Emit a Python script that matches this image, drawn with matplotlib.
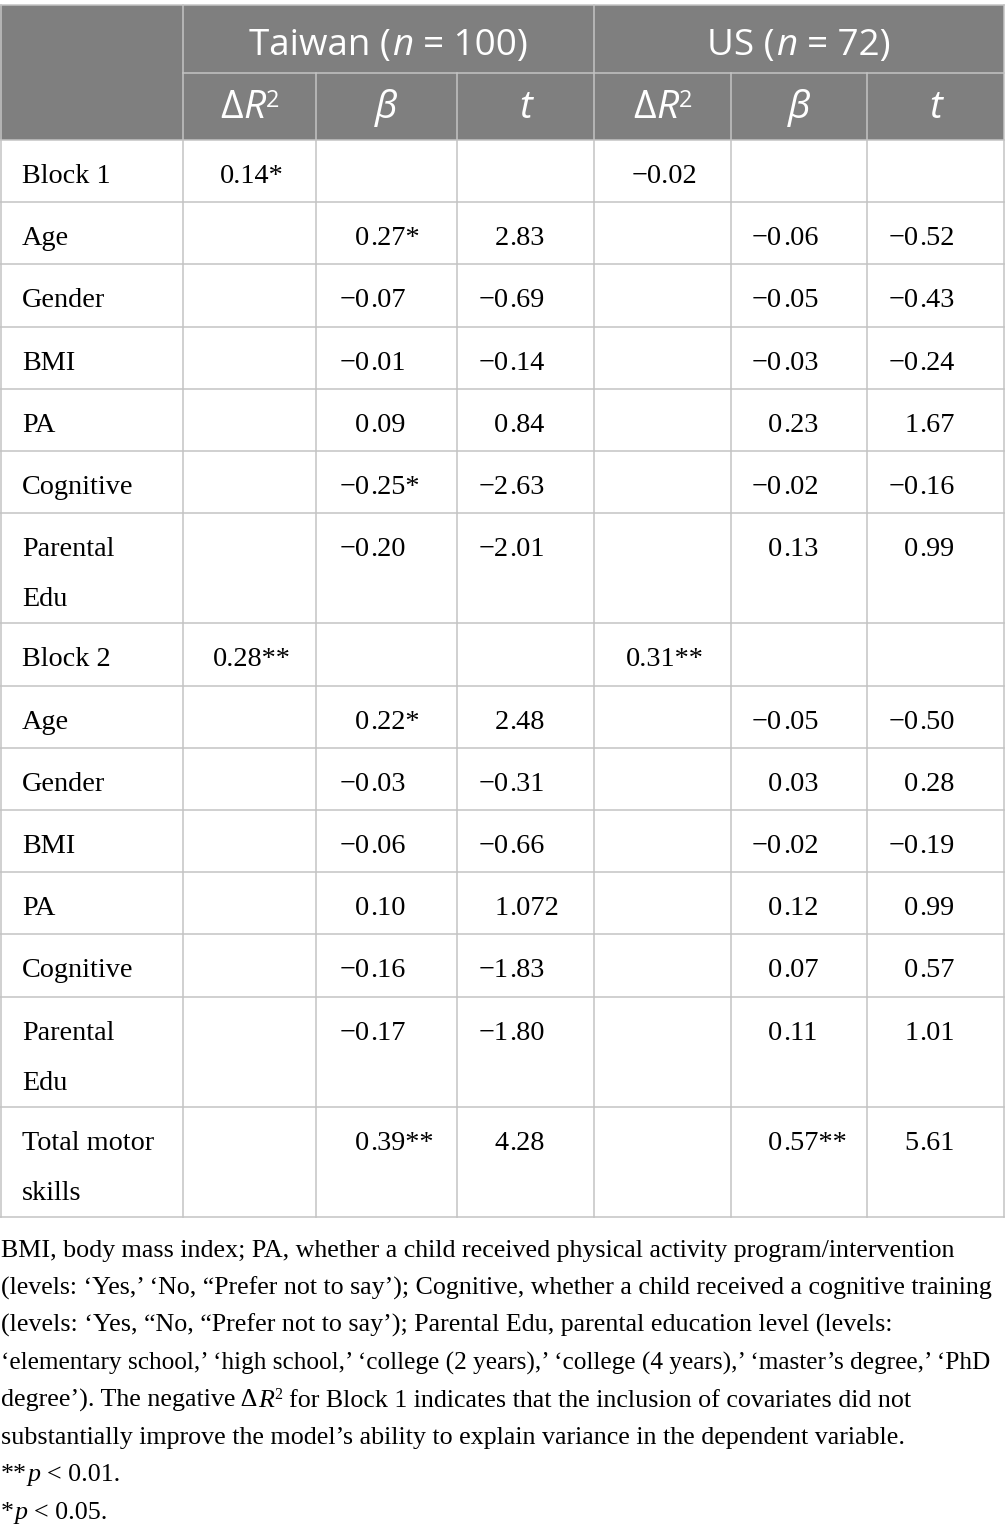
import matplotlib
matplotlib.use("Agg")
import matplotlib.pyplot as plt
from matplotlib.font_manager import FontProperties

# ---------------- data ----------------
group_titles = ["Taiwan", "US"]
group_n = ["100", "72"]
row_labels = ["Block 1", "Age", "Gender", "BMI", "PA", "Cognitive", "Parental\nEdu",
              "Block 2", "Age", "Gender", "BMI", "PA", "Cognitive", "Parental\nEdu",
              "Total motor\nskills"]
tw_dr2 = ["0.14*", "", "", "", "", "", "", "0.28**", "", "", "", "", "", "", ""]
tw_beta = ["", "0.27*", "−0.07", "−0.01", "0.09", "−0.25*", "−0.20",
           "", "0.22*", "−0.03", "−0.06", "0.10", "−0.16", "−0.17", "0.39**"]
tw_t = ["", "2.83", "−0.69", "−0.14", "0.84", "−2.63", "−2.01",
        "", "2.48", "−0.31", "−0.66", "1.072", "−1.83", "−1.80", "4.28"]
us_dr2 = ["−0.02", "", "", "", "", "", "", "0.31**", "", "", "", "", "", "", ""]
us_beta = ["", "−0.06", "−0.05", "−0.03", "0.23", "−0.02", "0.13",
           "", "−0.05", "0.03", "−0.02", "0.12", "0.07", "0.11", "0.57**"]
us_t = ["", "−0.52", "−0.43", "−0.24", "1.67", "−0.16", "0.99",
        "", "−0.50", "0.28", "−0.19", "0.99", "0.57", "1.01", "5.61"]

# ---------------- figure ----------------
W, H = 1005, 1535
fig = plt.figure(figsize=(W / 100, H / 100), dpi=100)
ax = fig.add_axes([0, 0, 1, 1])
ax.set_xlim(0, W)
ax.set_ylim(H, 0)
ax.axis("off")
renderer = fig.canvas.get_renderer()

SERIF = "Liberation Serif"
SANS = "Open Sans"
FOOT = 18.7
cell_fp = FontProperties(family=SERIF, size=20.3)
foot_fp = FontProperties(family=SERIF, size=FOOT)
foot_it = FontProperties(family=SERIF, style="italic", size=FOOT)
foot_sup = FontProperties(family=SERIF, size=11.5)
head_fp = FontProperties(family=SANS, size=26.5)
head_it = FontProperties(family=SANS, style="italic", size=26.5)
sub_fp = FontProperties(family=SANS, size=28)
sub_it = FontProperties(family=SANS, style="italic", size=28)
sub_sup = FontProperties(family=SANS, size=17)

HEAD_BG = "#7f7f7f"
GRID = "#c3c3c3"


def text_w(s, fp):
    t = ax.text(0, 0, s, fontproperties=fp)
    w = t.get_window_extent(renderer).width
    t.remove()
    return w


def space_w(fp):
    return text_w("a a", fp) - text_w("aa", fp)


def layout_runs(runs, gap):
    pieces = []
    total = 0.0
    for i, (s, fp, dy) in enumerate(runs):
        lead = len(s) - len(s.lstrip(" "))
        trail = len(s) - len(s.rstrip(" "))
        core = s.strip(" ")
        sw = space_w(fp) if (lead or trail) else 0
        w = text_w(core, fp) if core else 0
        if i > 0 and lead == 0:
            total += gap
        pieces.append((total + lead * sw, core, fp, dy))
        total += lead * sw + w + trail * sw
    return pieces, total


def draw_runs(x, y, runs, ha="left", color="black", gap=1.5, max_w=None):
    pieces, total = layout_runs(runs, gap)
    if max_w is not None and total > max_w:
        f = max_w / total
        runs = [(s, FontProperties(family=fp.get_family(), style=fp.get_style(),
                                   size=fp.get_size_in_points() * f), dy)
                for s, fp, dy in runs]
        pieces, total = layout_runs(runs, gap)
    if ha == "center":
        x0 = x - total / 2
    elif ha == "right":
        x0 = x - total
    else:
        x0 = x
    for off, core, fp, dy in pieces:
        ax.text(x0 + off, y + dy, core, fontproperties=fp, ha="left",
                va="baseline", color=color)


# column edges
col_x = [0, 183, 316, 457, 594, 731, 867, 1004]
y_top, y_mid, y_head = 5, 72.5, 140
single_h, double_h = 62.2, 110.2
row_tops = [y_head]
for lab in row_labels:
    row_tops.append(row_tops[-1] + (double_h if "\n" in lab else single_h))
y_bot = row_tops[-1]

# header background
ax.add_patch(plt.Rectangle((0, y_top), W - 1, y_head - y_top, color=HEAD_BG, lw=0))

lw = 1.1
ax.plot([0, 1004], [y_top, y_top], color=GRID, lw=lw)
ax.plot([183, 1004], [y_mid, y_mid], color=GRID, lw=lw)
for yy in row_tops:
    ax.plot([0, 1004], [yy, yy], color=GRID, lw=lw)
for xx in [0.8, 1003.5]:
    ax.plot([xx, xx], [y_top, y_bot], color=GRID, lw=lw)
for xx in [183, 594]:
    ax.plot([xx, xx], [y_top, y_bot], color=GRID, lw=lw)
for xx in [316, 457, 731, 867]:
    ax.plot([xx, xx], [y_mid, y_bot], color=GRID, lw=lw)

# header texts
for g, (title, n) in enumerate(zip(group_titles, group_n)):
    x0, x1 = col_x[1 + 3 * g], col_x[4 + 3 * g]
    draw_runs((x0 + x1) / 2, 55, [(title + " (", head_fp, 0), ("n", head_it, 0),
                                  (" = " + n + ")", head_fp, 0)],
              ha="center", color="white")
    cx = [(col_x[k] + col_x[k + 1]) / 2 for k in range(1 + 3 * g, 4 + 3 * g)]
    draw_runs(cx[0], 118, [("Δ", sub_fp, 0), ("R", sub_it, 0), ("2", sub_sup, -11)],
              ha="center", color="white", gap=0.5)
    draw_runs(cx[1], 118, [("β", sub_it, 0)], ha="center", color="white")
    draw_runs(cx[2], 118, [("t", sub_it, 0)], ha="center", color="white")


def draw_decimal(xd, y, s):
    if not s:
        return
    ip, rest = s.split(".", 1)
    ax.text(xd - 1, y, ip, fontproperties=cell_fp, ha="right", va="baseline")
    ax.text(xd, y, "." + rest, fontproperties=cell_fp, ha="left", va="baseline")


cols = [tw_dr2, tw_beta, tw_t, us_dr2, us_beta, us_t]
for i, lab in enumerate(row_labels):
    top = row_tops[i]
    for j, line in enumerate(lab.split("\n")):
        ax.text(22, top + 43 + 50 * j, line, fontproperties=cell_fp,
                ha="left", va="baseline")
    for k, col in enumerate(cols):
        s = col[i]
        if not s:
            continue
        cx = (col_x[k + 1] + col_x[k + 2]) / 2
        if k in (0, 3):
            ax.text(cx + 2, top + 43, s, fontproperties=cell_fp, ha="center", va="baseline")
        else:
            draw_decimal(cx - 16, top + 43, s)

# footnote
fb = 1257
fs = 37.4
foot_lines = [
    [("BMI, body mass index; PA, whether a child received physical activity program/intervention", foot_fp, 0)],
    [("(levels: ‘Yes,’ ‘No, “Prefer not to say’); Cognitive, whether a child received a cognitive training", foot_fp, 0)],
    [("(levels: ‘Yes, “No, “Prefer not to say’); Parental Edu, parental education level (levels:", foot_fp, 0)],
    [("‘elementary school,’ ‘high school,’ ‘college (2 years),’ ‘college (4 years),’ ‘master’s degree,’ ‘PhD",
      foot_fp, 0)],
    [("degree’). The negative Δ", foot_fp, 0), ("R", foot_it, 0), ("2", foot_sup, -8),
     (" for Block 1 indicates that the inclusion of covariates did not", foot_fp, 0)],
    [("substantially improve the model’s ability to explain variance in the dependent variable.", foot_fp, 0)],
    [("**", foot_fp, 0), ("p", foot_it, 0), (" < 0.01.", foot_fp, 0)],
    [("*", foot_fp, 0), ("p", foot_it, 0), (" < 0.05.", foot_fp, 0)],
]
for i, runs in enumerate(foot_lines):
    draw_runs(1, fb + fs * i, runs, ha="left", gap=0.5, max_w=992)

fig.savefig("out.png", dpi=100)
